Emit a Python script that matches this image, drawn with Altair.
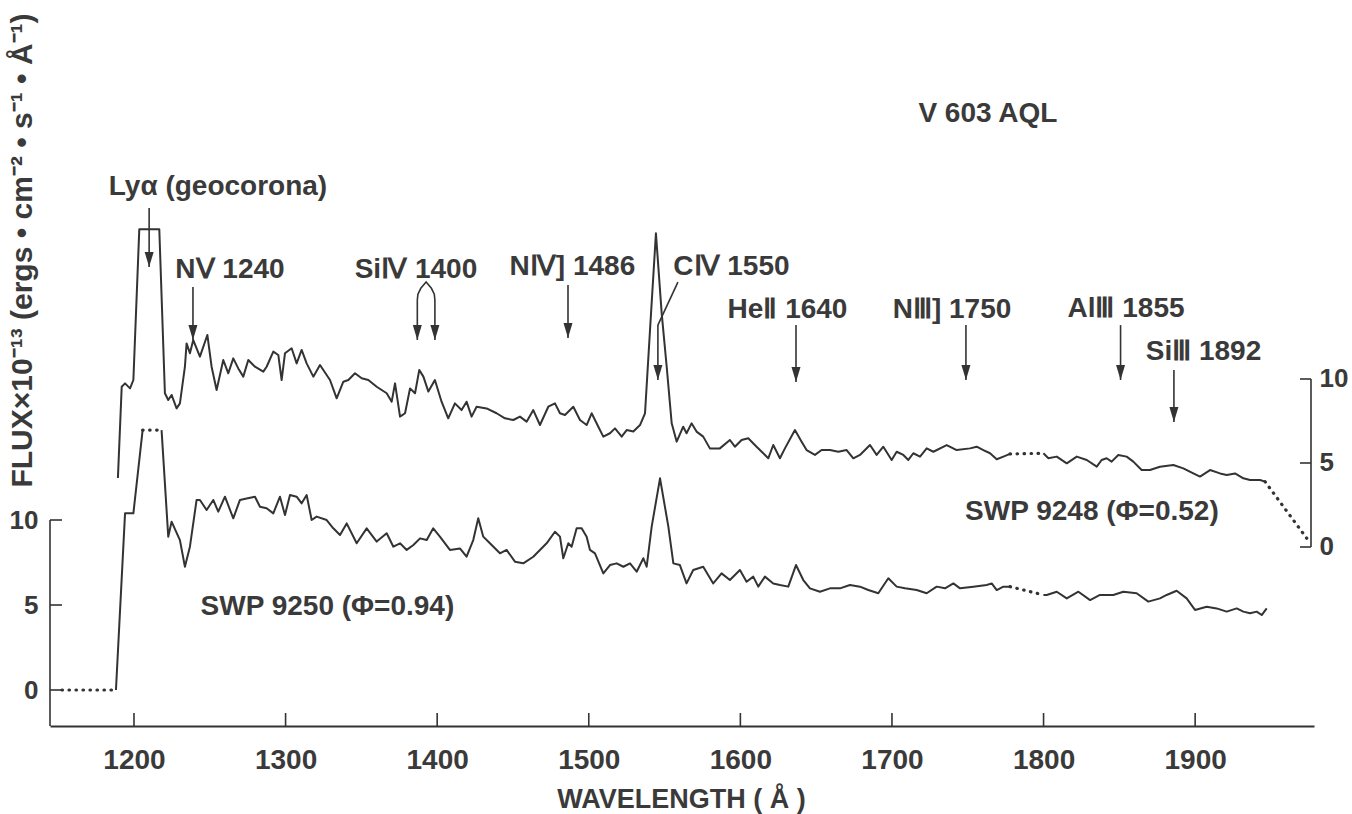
import altair as alt
import pandas as pd

# ---------------- data ----------------
# SWP 9250 (phase 0.94) -- lower spectrum, left axis (FLUX x 1e-13)
LOW_WL = [1152.5, 1188.1, 1194.1, 1199.6, 1205.7, 1218.2, 1222.6, 1224.8, 1230.3, 1233.6,
          1236.9, 1241.3, 1243.5, 1247.9, 1252.3, 1255.6, 1260.0, 1265.5, 1269.9, 1274.3,
          1279.8, 1283.1, 1287.5, 1291.9, 1296.3, 1299.6, 1302.9, 1307.3, 1310.6, 1313.9,
          1317.2, 1320.5, 1327.1, 1331.5, 1335.9, 1340.3, 1346.9, 1353.5, 1360.1, 1366.7,
          1371.1, 1375.5, 1379.9, 1384.3, 1388.7, 1393.1, 1397.4, 1401.8, 1408.4, 1415.0,
          1419.4, 1423.8, 1427.1, 1430.4, 1434.8, 1441.4, 1445.8, 1451.3, 1456.8, 1463.4,
          1472.2, 1477.7, 1481.0, 1483.2, 1486.5, 1488.7, 1492.0, 1495.3, 1498.6, 1500.8,
          1504.1, 1509.6, 1514.0, 1518.4, 1522.8, 1527.2, 1531.6, 1536.0, 1538.2, 1541.5,
          1547.0, 1552.5, 1555.8, 1560.1, 1564.5, 1568.9, 1575.5, 1582.1, 1587.6, 1593.1,
          1599.7, 1604.1, 1608.5, 1611.8, 1616.2, 1621.7, 1626.1, 1631.6, 1636.7, 1641.5,
          1645.9, 1652.5, 1659.1, 1665.7, 1672.3, 1678.9, 1684.4, 1691.0, 1697.6, 1703.1,
          1708.6, 1716.3, 1722.9, 1729.5, 1735.0, 1740.5, 1744.9, 1753.7, 1762.5, 1765.8,
          1769.1, 1773.5, 1777.9, 1799.9, 1802.1, 1808.7, 1815.3, 1823.0, 1830.7, 1837.2,
          1846.0, 1852.6, 1861.4, 1869.1, 1876.8, 1881.2, 1887.8, 1894.4, 1899.9, 1907.6,
          1914.2, 1920.8, 1927.4, 1931.8, 1936.2, 1940.6, 1943.9, 1947.2]
LOW_FLUX = [0.0, 0.0, 10.39, 10.39, 15.29, 15.29, 9.02, 9.90, 8.82, 7.25,
            8.43, 11.18, 11.18, 10.59, 11.18, 10.49, 11.37, 10.10, 11.18, 11.27,
            11.37, 10.78, 10.69, 10.39, 11.37, 10.29, 11.47, 11.37, 10.98, 11.47,
            10.00, 10.20, 10.00, 9.51, 9.12, 9.80, 8.63, 9.51, 8.73, 9.22,
            8.43, 8.63, 8.24, 8.53, 8.92, 8.82, 9.51, 9.02, 8.24, 8.33,
            7.84, 8.82, 10.10, 9.02, 8.63, 8.04, 8.24, 7.55, 7.45, 7.84,
            8.63, 9.31, 9.02, 7.75, 8.63, 8.43, 9.51, 9.51, 9.02, 8.24,
            8.04, 6.86, 7.35, 7.45, 7.25, 7.45, 6.96, 7.75, 7.25, 9.61,
            12.45, 9.61, 7.45, 7.35, 6.27, 7.06, 7.25, 6.27, 6.86, 6.47,
            7.06, 6.37, 6.67, 6.08, 6.67, 6.27, 6.18, 6.08, 7.35, 6.47,
            5.98, 5.78, 5.98, 5.98, 6.18, 6.08, 5.88, 5.69, 6.57, 6.08,
            5.98, 5.88, 5.69, 6.08, 5.98, 6.27, 5.98, 6.08, 6.18, 6.27,
            5.88, 6.08, 6.08, 5.59, 5.59, 5.78, 5.39, 5.78, 5.29, 5.59,
            5.59, 5.78, 5.69, 5.20, 5.39, 5.59, 5.84, 5.39, 4.71, 4.90,
            4.80, 4.61, 4.80, 4.61, 4.51, 4.61, 4.41, 4.80]
LOW_DOTTED = [(1152.5, 1188.1), (1205.7, 1218.2), (1777.9, 1799.9)]

# SWP 9248 (phase 0.52) -- upper spectrum, right axis (FLUX x 1e-13)
UP_WL = [1189.4, 1191.9, 1194.1, 1197.4, 1199.6, 1203.5, 1216.7, 1220.4, 1222.6, 1224.8,
         1228.1, 1230.3, 1233.6, 1234.7, 1236.9, 1239.1, 1243.5, 1248.4, 1251.2, 1254.5,
         1258.9, 1262.2, 1265.5, 1268.8, 1272.1, 1275.4, 1279.8, 1285.3, 1287.5, 1291.9,
         1295.2, 1297.4, 1299.6, 1304.0, 1307.3, 1310.6, 1313.9, 1318.3, 1322.7, 1329.3,
         1333.7, 1338.1, 1341.4, 1345.8, 1350.2, 1354.6, 1360.1, 1366.7, 1370.0, 1372.2,
         1375.5, 1378.8, 1382.1, 1385.4, 1388.2, 1390.9, 1394.2, 1398.5, 1402.9, 1407.3,
         1411.7, 1416.1, 1419.4, 1422.7, 1426.0, 1432.6, 1439.2, 1444.7, 1450.2, 1454.6,
         1459.0, 1463.4, 1467.8, 1473.3, 1477.7, 1481.0, 1484.3, 1489.8, 1494.2, 1498.6,
         1501.9, 1506.3, 1509.6, 1514.0, 1517.3, 1521.7, 1525.0, 1529.4, 1533.8, 1537.1,
         1540.4, 1544.3, 1548.1, 1551.4, 1554.7, 1558.0, 1562.3, 1564.5, 1567.8, 1571.1,
         1575.5, 1579.9, 1586.5, 1593.1, 1596.4, 1600.8, 1605.2, 1610.7, 1615.1, 1618.4,
         1621.7, 1626.1, 1629.4, 1636.0, 1640.4, 1643.7, 1649.2, 1653.6, 1659.1, 1664.6,
         1670.1, 1674.5, 1678.9, 1685.5, 1689.9, 1694.3, 1699.8, 1703.1, 1707.5, 1710.8,
         1714.1, 1718.5, 1722.9, 1727.3, 1736.1, 1742.7, 1751.5, 1755.9, 1760.3, 1764.7,
         1769.1, 1773.5, 1777.9, 1799.9, 1803.2, 1808.7, 1815.3, 1821.9, 1828.5, 1835.1,
         1838.3, 1841.6, 1844.9, 1849.3, 1854.8, 1859.2, 1864.7, 1870.2, 1876.8, 1885.6,
         1892.2, 1898.8, 1903.2, 1909.8, 1916.4, 1920.8, 1926.3, 1931.8, 1936.2, 1942.8,
         1946.1, 1973.6]
UP_FLUX = [4.11, 9.54, 9.74, 9.44, 9.94, 18.91, 18.91, 9.15, 8.75, 9.05,
           8.25, 8.55, 10.73, 12.12, 11.53, 12.32, 11.33, 12.62, 10.73, 9.35,
           11.13, 10.34, 11.23, 10.63, 10.14, 11.13, 10.73, 10.44, 10.73, 11.63,
           11.43, 9.94, 11.53, 11.83, 10.93, 11.73, 10.93, 10.14, 10.83, 9.94,
           8.85, 9.84, 9.94, 10.34, 10.04, 9.94, 9.54, 9.15, 8.65, 9.74,
           7.76, 7.96, 9.44, 9.15, 10.54, 10.14, 9.25, 9.94, 8.65, 7.66,
           8.55, 8.15, 8.65, 7.76, 8.35, 8.25, 7.96, 7.66, 7.56, 7.76,
           7.46, 8.15, 7.26, 8.35, 8.55, 7.96, 7.86, 8.35, 7.56, 7.26,
           7.96, 7.16, 6.57, 6.77, 7.06, 6.57, 6.96, 6.87, 7.26, 7.96,
           12.92, 18.67, 13.91, 10.73, 7.36, 6.27, 7.16, 6.77, 7.36, 6.87,
           6.57, 5.87, 5.87, 6.37, 5.97, 6.37, 6.47, 5.97, 5.58, 5.28,
           6.07, 5.28, 5.87, 6.96, 6.27, 5.77, 5.48, 5.77, 5.77, 5.67,
           5.77, 5.28, 5.48, 6.07, 5.48, 5.97, 5.18, 5.67, 5.48, 5.18,
           5.58, 5.38, 5.87, 5.67, 6.07, 5.77, 5.87, 5.97, 5.77, 5.58,
           5.22, 5.38, 5.54, 5.58, 5.28, 5.38, 4.98, 5.38, 5.18, 4.78,
           5.18, 5.28, 5.08, 5.48, 5.38, 5.08, 4.58, 4.58, 4.78, 4.88,
           4.68, 4.38, 4.19, 4.58, 4.38, 4.29, 4.38, 4.09, 3.99, 3.99,
           3.89, 0.52]
UP_DOTTED = [(1777.9, 1799.9), (1946.1, 1973.6)]

# line identifications (arrows drawn in upper-spectrum units)
LINE_LABELS = ["Ly\u03b1 (geocorona)", "N\u2164 1240", "Si\u2163 1400", "N\u2163] 1486",
               "C\u2163 1550", "He\u2161 1640", "N\u2162] 1750", "Al\u2162 1855", "Si\u2162 1892"]
LABEL_WL = [1255.4, 1263.3, 1386.0, 1489.2, 1594.1, 1631.1, 1739.6, 1854.4, 1905.5]
LABEL_Y = [20.95, 16.01, 16.01, 16.19, 16.19, 13.63, 13.63, 13.69, 11.13]

ARROW_WL = [1210.0, 1238.9, 1386.9, 1398.5, 1486.3, 1545.6, 1636.7, 1748.8, 1850.8, 1886.0]
ARROW_TOP = [20.18, 15.48, 14.70, 14.70, 15.60, 13.21, 13.21, 13.21, 13.21, 10.54]
ARROW_TIP = [16.67, 12.32, 12.32, 12.32, 12.44, 9.94, 9.82, 9.94, 9.94, 7.44]

# connector paths (Si IV fork and C IV leader)
CONN_ID = ["si", "si", "si", "si", "si", "si", "si", "c", "c"]
CONN_WL = [1386.9, 1387.3, 1389.2, 1392.7, 1396.2, 1398.1, 1398.5, 1545.6, 1558.8]
CONN_Y = [14.70, 15.05, 15.40, 15.77, 15.40, 15.05, 14.70, 13.21, 15.77]

SERIES_LABELS = ["SWP 9248 (\u03a6=0.52)", "SWP 9250 (\u03a6=0.94)", "V 603 AQL"]
SERIES_WL = [1831.9, 1327.6, 1763.3]
SERIES_Y = [1.61, -4.05, 25.3]

X_TICKS = [1200, 1300, 1400, 1500, 1600, 1700, 1800, 1900]
Y_TICKS = [0, 5, 10]

# ---------------- layout / style ----------------
X_DOMAIN = [1144.6, 1978.4]
LOW_DOMAIN = [-2.1176, 40.0]
UP_DOMAIN = [-10.655, 31.964]
PLOT_W, PLOT_H = 1264, 716
INK = "#333333"
TXT = "#3a3a3a"
FONT = "Liberation Sans"

xs = alt.Scale(domain=X_DOMAIN, nice=False, zero=False)
ls = alt.Scale(domain=LOW_DOMAIN, nice=False, zero=False)
us = alt.Scale(domain=UP_DOMAIN, nice=False, zero=False)

x_axis = alt.Axis(values=X_TICKS, format="d", grid=False, ticks=False, domain=True,
                  domainColor=INK, domainWidth=2, labelFontSize=28, labelFont=FONT,
                  labelFontWeight="bold", labelColor=TXT, labelBaseline="alphabetic",
                  labelPadding=42, title="WAVELENGTH ( \u00c5 )", titleFont=FONT,
                  titleFontSize=27, titleFontWeight="bold", titleColor=TXT,
                  titleX=631, titleY=81, titleAlign="center", titleBaseline="alphabetic")
left_axis = alt.Axis(values=Y_TICKS, orient="left", grid=False, ticks=False,
                     domain=False, labelFontSize=26, labelFont=FONT, labelFontWeight="bold",
                     labelColor=TXT, labelPadding=12,
                     title="FLUX\u00d710\u207b\u00b9\u00b3 (ergs \u2022 cm\u207b\u00b2 \u2022 s\u207b\u00b9 \u2022 \u00c5\u207b\u00b9)",
                     titleFont=FONT, titleFontSize=30, titleFontWeight="bold", titleColor=TXT,
                     titleAngle=270, titleX=-28, titleY=240, titleAlign="center",
                     titleBaseline="middle")
right_axis = alt.Axis(values=Y_TICKS, orient="right", grid=False, ticks=False,
                      domain=False, labelFontSize=26, labelFont=FONT, labelFontWeight="bold",
                      labelColor=TXT, labelPadding=5, title=None)


def X(field="wl"):
    return alt.X(f"{field}:Q", scale=xs, axis=x_axis)


def YL(field):
    return alt.Y(f"{field}:Q", scale=ls, axis=left_axis)


def YU(field):
    return alt.Y(f"{field}:Q", scale=us, axis=right_axis)


def segments(wl, fl, dotted, name):
    rows = []
    seg = 0
    prev = None
    for i in range(len(wl) - 1):
        mid = (wl[i] + wl[i + 1]) / 2
        style = "dotted" if any(a <= mid <= b for a, b in dotted) else "solid"
        if style != prev:
            seg += 1
            rows.append(dict(wl=wl[i], flux=fl[i], seg=f"{name}{seg}", style=style, order=i))
            prev = style
        rows.append(dict(wl=wl[i + 1], flux=fl[i + 1], seg=f"{name}{seg}", style=style, order=i + 1))
    return pd.DataFrame(rows)


low_df = segments(LOW_WL, LOW_FLUX, LOW_DOTTED, "L")
up_df = segments(UP_WL, UP_FLUX, UP_DOTTED, "U")

SOLID = dict(color=INK, strokeWidth=2, strokeJoin="round")
DOTS = dict(color=INK, strokeWidth=3.2, strokeDash=[0.5, 6.5], strokeCap="round")

low_solid = alt.Chart(low_df[low_df["style"] == "solid"]).mark_line(**SOLID).encode(
    x=X(), y=YL("flux"), detail="seg:N", order="order:Q")
low_dotted = alt.Chart(low_df[low_df["style"] == "dotted"]).mark_line(**DOTS).encode(
    x=X(), y=YL("flux"), detail="seg:N", order="order:Q")
up_solid = alt.Chart(up_df[up_df["style"] == "solid"]).mark_line(**SOLID).encode(
    x=X(), y=YU("flux"), detail="seg:N", order="order:Q")
up_dotted = alt.Chart(up_df[up_df["style"] == "dotted"]).mark_line(**DOTS).encode(
    x=X(), y=YU("flux"), detail="seg:N", order="order:Q")

# hand-drawn style axes: inward ticks
RULE = dict(color=INK, strokeWidth=1.6)
x_ticks = alt.Chart(pd.DataFrame({"wl": X_TICKS})).mark_rule(**RULE).encode(
    x=X(), y=alt.value(PLOT_H - 13), y2=alt.value(PLOT_H))

ytick_df = pd.DataFrame({"v": Y_TICKS})
left_line = alt.Chart(pd.DataFrame({"v": [max(Y_TICKS)]})).mark_rule(**RULE).encode(
    x=alt.value(0), y=YL("v"), y2=alt.value(PLOT_H))
left_ticks = alt.Chart(ytick_df).mark_rule(**RULE).encode(
    x=alt.value(0), x2=alt.value(12), y=YL("v"))

right_line = alt.Chart(pd.DataFrame({"v": [max(Y_TICKS)], "v2": [min(Y_TICKS)]})).mark_rule(
    **RULE).encode(x=alt.value(PLOT_W - 3), y=YU("v"), y2="v2:Q")
right_ticks = alt.Chart(ytick_df).mark_rule(**RULE).encode(
    x=alt.value(PLOT_W - 14), x2=alt.value(PLOT_W - 3), y=YU("v"))

# arrows
arrow_df = pd.DataFrame({"wl": ARROW_WL, "top": ARROW_TOP, "tip": ARROW_TIP})
arrow_shafts = alt.Chart(arrow_df).mark_rule(**RULE).encode(
    x=X(), y=YU("top"), y2="tip:Q")
arrow_heads = alt.Chart(arrow_df).mark_point(
    shape="M-0.45,-1.5L0.45,-1.5L0,0Z", size=400, filled=True, color=INK, opacity=1,
    strokeWidth=0).encode(x=X(), y=YU("tip"))
conn_df = pd.DataFrame({"id": CONN_ID, "wl": CONN_WL, "v": CONN_Y,
                        "order": list(range(len(CONN_ID)))})
connectors = alt.Chart(conn_df).mark_line(**RULE).encode(
    x=X(), y=YU("v"), detail="id:N", order="order:Q")

TEXT = dict(align="center", baseline="alphabetic", fontSize=28, font=FONT,
            fontWeight="bold", color=TXT)
label_df = pd.DataFrame({"wl": LABEL_WL, "v": LABEL_Y, "label": LINE_LABELS})
labels = alt.Chart(label_df).mark_text(**TEXT).encode(x=X(), y=YU("v"), text="label:N")

series_df = pd.DataFrame({"wl": SERIES_WL, "v": SERIES_Y, "label": SERIES_LABELS})
series_text = alt.Chart(series_df).mark_text(**TEXT).encode(x=X(), y=YU("v"), text="label:N")

lower = alt.layer(low_solid, low_dotted, x_ticks, left_line, left_ticks)
upper = alt.layer(up_solid, up_dotted, right_line, right_ticks, arrow_shafts, arrow_heads,
                  connectors, labels, series_text)

chart = alt.layer(lower, upper).resolve_scale(y="independent").properties(
    width=PLOT_W, height=PLOT_H,
    autosize=alt.AutoSizeParams(type="none"),
    padding={"left": 50, "top": 10, "right": 38, "bottom": 88},
    background="white",
).configure_view(stroke=None)

chart.save("out.html", embed_options={"renderer": "svg", "actions": False})
